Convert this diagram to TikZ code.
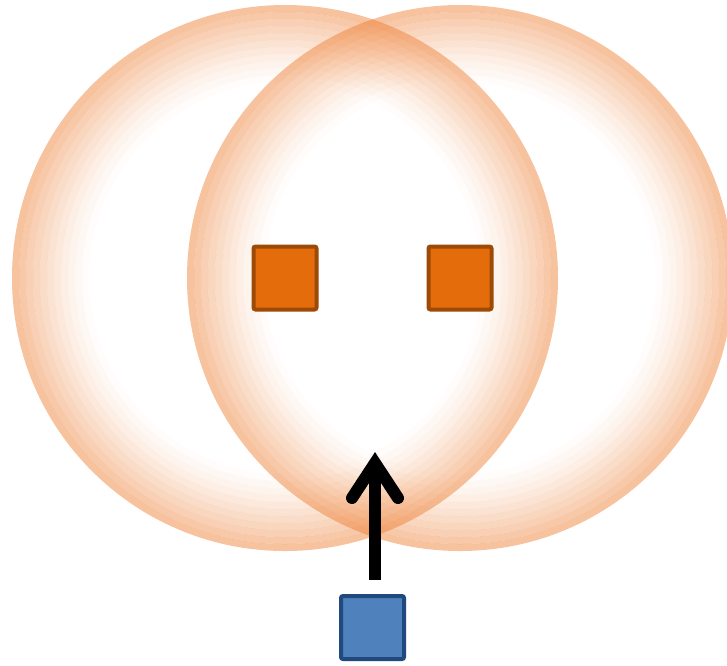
\documentclass[tikz,border=0pt]{standalone}
\usetikzlibrary{calc}
\definecolor{ringorange}{HTML}{ED7D31}
\definecolor{sqfill}{HTML}{E46C0A}
\definecolor{sqdraw}{HTML}{9C4A06}
\definecolor{bluefill}{HTML}{4F81BD}
\definecolor{bluedraw}{HTML}{204A7E}
\tikzset{
  orangesq/.style={draw=sqdraw, fill=sqfill, line width=4pt, minimum size=63pt, inner sep=0pt, rounded corners=2pt},
  bluesq/.style={draw=bluedraw, fill=bluefill, line width=4pt, minimum size=63pt, inner sep=0pt, rounded corners=2pt},
  arrowline/.style={line width=12pt, black}
}
\newcommand{\glowring}[1]{%
  \foreach \i in {0,...,10}{%
    \pgfmathsetmacro{\ro}{273-\i*7}%
    \pgfmathsetmacro{\ri}{\ro-7}%
    \pgfmathsetmacro{\op}{0.47*(1-\i/11)^1.3}%
    \fill[ringorange, fill opacity=\op, even odd rule] (#1) circle (\ro pt) (#1) circle (\ri pt);
  }%
}
\begin{document}
\begin{tikzpicture}[x=1pt,y=-1pt]
\useasboundingbox (0,0) rectangle (727,665);
\begin{scope}
\clip (0,0) rectangle (727,665);
\coordinate (cl) at (285,278);
\coordinate (cr) at (460,278);
\glowring{cl}
\glowring{cr}
\end{scope}
\node[orangesq] (sl) at (cl) {};
\node[orangesq] (sr) at (cr) {};
\node[bluesq] (b) at (372.5,627.5) {};
\coordinate (tip) at (375,463);
\draw[arrowline, line cap=butt] (375,580) -- (tip);
\draw[arrowline, line cap=round, line join=miter] ($(tip)+(-23,35)$) -- (tip) -- ($(tip)+(23,35)$);
\end{tikzpicture}
\end{document}
